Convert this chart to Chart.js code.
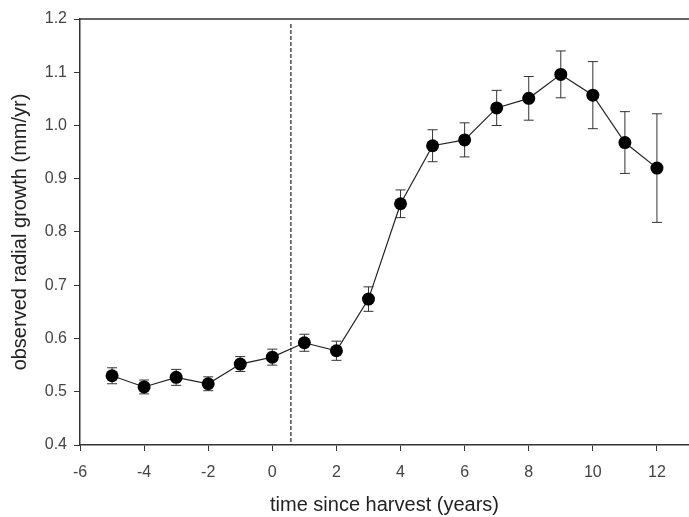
<!DOCTYPE html>
<html>
<head>
<meta charset="utf-8">
<script src="https://cdn.jsdelivr.net/npm/chart.js@4/dist/chart.umd.min.js"></script>
<style>
  body { margin: 0; background: #fff; }
  #wrap { width: 689px; height: 517px; }
</style>
</head>
<body>
<div id="wrap"><canvas id="growthChart" width="689" height="517"></canvas></div>
<script>
// Data
const years = [-5, -4, -3, -2, -1, 0, 1, 2, 3, 4, 5, 6, 7, 8, 9, 10, 11, 12];
const growth = [0.530, 0.509, 0.527, 0.515, 0.552, 0.565, 0.592, 0.577, 0.674, 0.853,
                0.962, 0.973, 1.033, 1.051, 1.096, 1.057, 0.968, 0.920];
const stdErr = [0.015, 0.013, 0.015, 0.013, 0.014, 0.015, 0.016, 0.018, 0.023, 0.026,
                0.030, 0.032, 0.033, 0.041, 0.044, 0.063, 0.058, 0.102];
const xTicks = [-6, -4, -2, 0, 2, 4, 6, 8, 10, 12];
const yTicks = [0.4, 0.5, 0.6, 0.7, 0.8, 0.9, 1.0, 1.1, 1.2];
const harvestLine = 0.58;

const points = years.map((x, i) => ({ x: x, y: growth[i] }));

// Error bars, drawn under the points
const errorBars = {
    id: 'errorBars',
    beforeDatasetsDraw(chart) {
        const ctx = chart.ctx;
        const xs = chart.scales.x, ys = chart.scales.y;
        ctx.save();
        ctx.strokeStyle = '#333';
        ctx.lineWidth = 1;
        years.forEach((yr, i) => {
            const px = xs.getPixelForValue(yr);
            const top = ys.getPixelForValue(growth[i] + stdErr[i]);
            const bot = ys.getPixelForValue(growth[i] - stdErr[i]);
            ctx.beginPath();
            ctx.moveTo(px, top); ctx.lineTo(px, bot);
            ctx.moveTo(px - 5, top); ctx.lineTo(px + 5, top);
            ctx.moveTo(px - 5, bot); ctx.lineTo(px + 5, bot);
            ctx.stroke();
        });
        ctx.restore();
    }
};

// Dashed harvest line + top frame
const extras = {
    id: 'extras',
    beforeDatasetsDraw(chart) {
        const ctx = chart.ctx;
        const area = chart.chartArea;
        const px = chart.scales.x.getPixelForValue(harvestLine);
        ctx.save();
        ctx.strokeStyle = '#222';
        ctx.lineWidth = 1.2;
        ctx.setLineDash([4, 2]);
        ctx.beginPath();
        ctx.moveTo(px, area.top + 5);
        ctx.lineTo(px, area.bottom);
        ctx.stroke();
        ctx.setLineDash([]);
        ctx.strokeStyle = '#333';
        ctx.lineWidth = 1.5;
        ctx.beginPath();
        ctx.moveTo(area.left, area.top);
        ctx.lineTo(area.right, area.top);
        ctx.stroke();
        ctx.restore();
    }
};

const ctx = document.getElementById('growthChart').getContext('2d');
new Chart(ctx, {
    type: 'scatter',
    data: {
        datasets: [{
            data: points,
            showLine: true,
            borderColor: '#222',
            borderWidth: 1.2,
            pointRadius: 6.5,
            pointBackgroundColor: '#000',
            pointBorderColor: '#000',
            pointBorderWidth: 0
        }]
    },
    options: {
        responsive: false,
        animation: false,
        layout: { autoPadding: false, padding: { top: 19, right: 0, left: 0, bottom: 0 } },
        plugins: { legend: { display: false }, tooltip: { enabled: false } },
        scales: {
            x: {
                type: 'linear',
                min: -6,
                max: 13,
                afterBuildTicks: s => { s.ticks = xTicks.map(v => ({ value: v })); },
                afterFit: s => { s.height = 72; s.paddingLeft = 0; s.paddingRight = 0; },
                border: { color: '#333', width: 1.5 },
                grid: { drawOnChartArea: false, tickLength: 6, color: '#333' },
                ticks: {
                    padding: 12,
                    color: '#444',
                    font: { family: 'Liberation Sans, Arial, sans-serif', size: 16 }
                },
                title: {
                    display: true,
                    text: 'time since harvest (years)',
                    color: '#222',
                    padding: { top: 0, bottom: 0 },
                    font: { family: 'Liberation Sans, Arial, sans-serif', size: 20 }
                }
            },
            y: {
                min: 0.4,
                max: 1.2,
                afterBuildTicks: s => { s.ticks = yTicks.map(v => ({ value: v })); },
                afterFit: s => { s.width = 80; },
                border: { color: '#333', width: 1.5 },
                grid: { drawOnChartArea: false, tickLength: 6, color: '#333' },
                ticks: {
                    padding: 7,
                    color: '#444',
                    callback: v => v.toFixed(1),
                    font: { family: 'Liberation Sans, Arial, sans-serif', size: 16 }
                },
                title: {
                    display: true,
                    text: 'observed radial growth (mm/yr)',
                    color: '#222',
                    padding: { top: 8, bottom: 0 },
                    font: { family: 'Liberation Sans, Arial, sans-serif', size: 20 }
                }
            }
        }
    },
    plugins: [errorBars, extras]
});
</script>
</body>
</html>
